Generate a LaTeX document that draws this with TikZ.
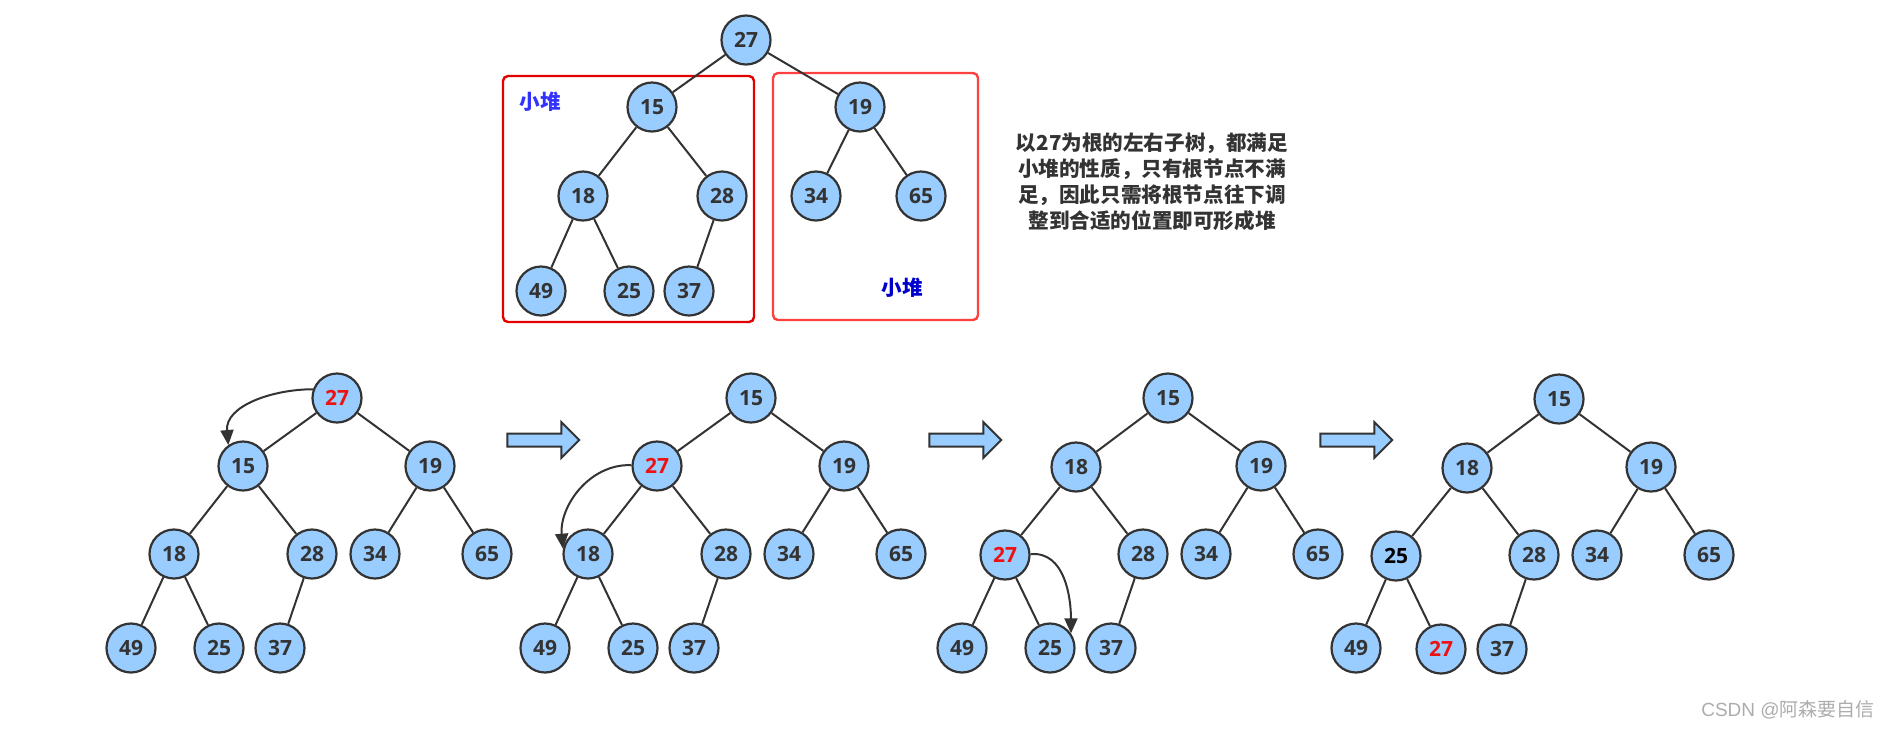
\documentclass[tikz,border=0pt]{standalone}
\usepackage{fontspec}
\setmainfont{Open Sans}
\newfontfamily\cjk{Noto Sans CJK SC}
\newfontfamily\wmfont{Liberation Sans}
\usetikzlibrary{shapes,arrows.meta}
\definecolor{heapblue}{HTML}{99CCFF}
\definecolor{edgegray}{HTML}{333333}
\definecolor{hotred}{HTML}{EE1111}
\tikzstyle{hnode} = [draw=edgegray,fill=heapblue,circle,line width=1.1pt,minimum size=24.5pt,
    inner sep=0pt,text=edgegray,font=\fontsize{10.5}{12}\selectfont\bfseries]
\tikzstyle{edge} = [edgegray,line width=1pt]
\tikzstyle{swap} = [edgegray,line width=1pt,-{Triangle[length=7.5pt,width=6.5pt]}]
\tikzstyle{bigarrow} = [draw=edgegray,fill=heapblue,single arrow,line width=1pt,
    minimum height=36pt,single arrow head extend=5.75pt,inner sep=2.75pt]
\tikzstyle{redbox} = [line width=1.2pt,rounded corners=2.5pt]
\newcommand{\hot}[1]{\textcolor{hotred}{#1}}

\begin{document}
\begin{tikzpicture}[x=0.5pt,y=-0.5pt]
    \useasboundingbox (0,0) rectangle (1889,736);

    % top tree
    \node[hnode] (a-rt) at (746,40) {27};
    \node[hnode] (a-n1) at (652,107) {15};
    \node[hnode] (a-n2) at (860,107) {19};
    \node[hnode] (a-n3) at (583,196) {18};
    \node[hnode] (a-n4) at (722,196) {28};
    \node[hnode] (a-n5) at (816,196) {34};
    \node[hnode] (a-n6) at (921,196) {65};
    \node[hnode] (a-n7) at (541,291) {49};
    \node[hnode] (a-n8) at (629,291) {25};
    \node[hnode] (a-n9) at (689,291) {37};
    \draw[redbox,draw=red!90!black] (503,76) rectangle (754,322);
    \draw[redbox,draw=red!75] (773,73) rectangle (978,320);
    \node[font=\cjk\bfseries\fontsize{10.3}{12}\selectfont,text=blue!80!white] (lbl-l) at (540,102) {小堆};
    \node[font=\cjk\bfseries\fontsize{10.3}{12}\selectfont,text=blue!80!black] (lbl-r) at (902,288) {小堆};
    \node[font=\cjk\bfseries\fontsize{10.3}{13}\selectfont,text=edgegray,align=center]
        (note) at (1152,182) {以27为根的左右子树，都满足\\小堆的性质，只有根节点不满\\足，因此只需将根节点往下调\\整到合适的位置即可形成堆};

    % step 1
    \begin{scope}[shift={(337,398)}]
        \node[hnode] (b-rt) at (0,0) {\hot{27}};
        \node[hnode] (b-n1) at (-94,68) {15};
        \node[hnode] (b-n2) at (93,68) {19};
        \node[hnode] (b-n3) at (-163,156) {18};
        \node[hnode] (b-n4) at (-25,156) {28};
        \node[hnode] (b-n5) at (38,156) {34};
        \node[hnode] (b-n6) at (150,156) {65};
        \node[hnode] (b-n7) at (-206,250) {49};
        \node[hnode] (b-n8) at (-118,250) {25};
        \node[hnode] (b-n9) at (-57,250) {37};
    \end{scope}
    \node[bigarrow] (go1) at (540,440) {};

    % step 2
    \begin{scope}[shift={(751,398)}]
        \node[hnode] (c-rt) at (0,0) {15};
        \node[hnode] (c-n1) at (-94,68) {\hot{27}};
        \node[hnode] (c-n2) at (93,68) {19};
        \node[hnode] (c-n3) at (-163,156) {18};
        \node[hnode] (c-n4) at (-25,156) {28};
        \node[hnode] (c-n5) at (38,156) {34};
        \node[hnode] (c-n6) at (150,156) {65};
        \node[hnode] (c-n7) at (-206,250) {49};
        \node[hnode] (c-n8) at (-118,250) {25};
        \node[hnode] (c-n9) at (-57,250) {37};
    \end{scope}
    \node[bigarrow] (go2) at (962,440) {};

    % step 3
    \begin{scope}[shift={(1168,398)}]
        \node[hnode] (d-rt) at (0,0) {15};
        \node[hnode] (d-n1) at (-92,69) {18};
        \node[hnode] (d-n2) at (93,68) {19};
        \node[hnode] (d-n3) at (-163,157) {\hot{27}};
        \node[hnode] (d-n4) at (-25,156) {28};
        \node[hnode] (d-n5) at (38,156) {34};
        \node[hnode] (d-n6) at (150,156) {65};
        \node[hnode] (d-n7) at (-206,250) {49};
        \node[hnode] (d-n8) at (-118,250) {25};
        \node[hnode] (d-n9) at (-57,250) {37};
    \end{scope}
    \node[bigarrow] (go3) at (1353,440) {};

    % step 4
    \begin{scope}[shift={(1559,399)}]
        \node[hnode] (e-rt) at (0,0) {15};
        \node[hnode] (e-n1) at (-92,69) {18};
        \node[hnode] (e-n2) at (92,68) {19};
        \node[hnode] (e-n3) at (-163,157) {\textcolor{black}{25}};
        \node[hnode] (e-n4) at (-25,156) {28};
        \node[hnode] (e-n5) at (38,156) {34};
        \node[hnode] (e-n6) at (150,156) {65};
        \node[hnode] (e-n7) at (-203,249) {49};
        \node[hnode] (e-n8) at (-118,250) {\hot{27}};
        \node[hnode] (e-n9) at (-57,250) {37};
    \end{scope}

    \foreach \t in {a,b,c,d,e}
        \draw[edge] (\t-rt) -- (\t-n1) (\t-rt) -- (\t-n2) (\t-n1) -- (\t-n3) (\t-n1) -- (\t-n4)
            (\t-n2) -- (\t-n5) (\t-n2) -- (\t-n6) (\t-n3) -- (\t-n7) (\t-n3) -- (\t-n8) (\t-n4) -- (\t-n9);

    % sift down
    \draw[swap] (b-rt.160) to[out=180,in=95] (b-n1.125);
    \draw[swap] (c-n1.178) to[out=178,in=95] (c-n3.168);
    \draw[swap] (d-n3.2) to[out=5,in=90] (d-n8.35);

    \node[text=gray!65,font=\fontsize{9.5}{10}\selectfont] (mark) at (1788,710) {\wmfont CSDN @\cjk 阿森要自信};
\end{tikzpicture}
\end{document}
